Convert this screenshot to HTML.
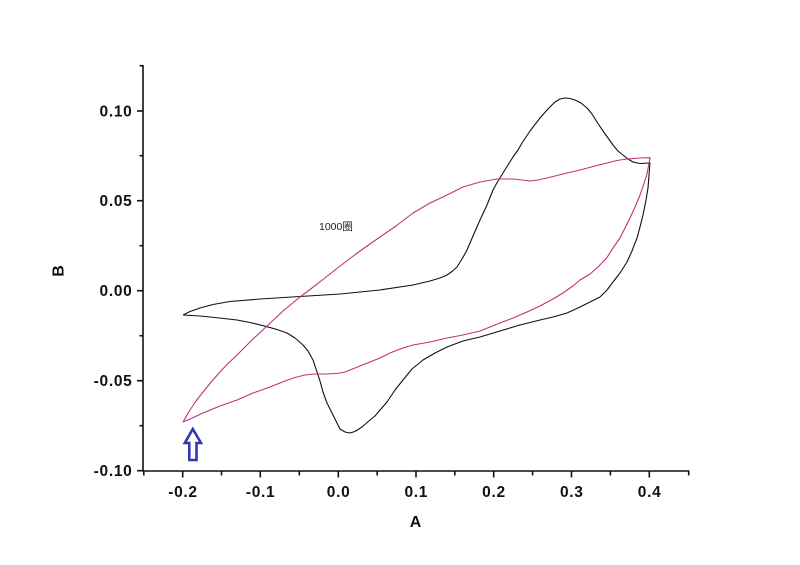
<!DOCTYPE html>
<html><head><meta charset="utf-8"><style>
html,body{margin:0;padding:0;background:#fff;}
svg{display:block;}
text{font-family:"Liberation Sans","Noto Sans CJK SC",Arial,sans-serif;}
.t{font-size:15.5px;font-weight:bold;fill:#111;letter-spacing:0.7px;}
</style></head><body>
<svg width="800" height="565" viewBox="0 0 800 565" xmlns="http://www.w3.org/2000/svg">
<rect width="800" height="565" fill="#fff"/>
<g stroke="#111" stroke-width="1.6" fill="none">
<line x1="143" y1="65" x2="143" y2="471.5"/>
<line x1="142.2" y1="471" x2="689.5" y2="471"/>
<line x1="137" y1="111" x2="143" y2="111"/>
<line x1="137" y1="200.7" x2="143" y2="200.7"/>
<line x1="137" y1="290.7" x2="143" y2="290.7"/>
<line x1="137" y1="380.7" x2="143" y2="380.7"/>
<line x1="137" y1="470.7" x2="143" y2="470.7"/>
<line x1="139.5" y1="65.7" x2="143" y2="65.7"/>
<line x1="139.5" y1="155.7" x2="143" y2="155.7"/>
<line x1="139.5" y1="245.7" x2="143" y2="245.7"/>
<line x1="139.5" y1="335.7" x2="143" y2="335.7"/>
<line x1="139.5" y1="425.7" x2="143" y2="425.7"/>
<line x1="182.7" y1="471" x2="182.7" y2="477.5"/>
<line x1="260.3" y1="471" x2="260.3" y2="477.5"/>
<line x1="338.3" y1="471" x2="338.3" y2="477.5"/>
<line x1="416" y1="471" x2="416" y2="477.5"/>
<line x1="493.7" y1="471" x2="493.7" y2="477.5"/>
<line x1="571.5" y1="471" x2="571.5" y2="477.5"/>
<line x1="649.3" y1="471" x2="649.3" y2="477.5"/>
<line x1="143.8" y1="471" x2="143.8" y2="475.5"/>
<line x1="221.5" y1="471" x2="221.5" y2="475.5"/>
<line x1="299.3" y1="471" x2="299.3" y2="475.5"/>
<line x1="377.2" y1="471" x2="377.2" y2="475.5"/>
<line x1="454.8" y1="471" x2="454.8" y2="475.5"/>
<line x1="532.6" y1="471" x2="532.6" y2="475.5"/>
<line x1="610.4" y1="471" x2="610.4" y2="475.5"/>
<line x1="688.7" y1="471" x2="688.7" y2="475.5"/>
</g>
<g class="t" text-anchor="end">
<text x="132.5" y="116.5">0.10</text>
<text x="132.5" y="206.2">0.05</text>
<text x="132.5" y="296.2">0.00</text>
<text x="132.5" y="386.2">-0.05</text>
<text x="132.5" y="476.2">-0.10</text>
</g>
<g class="t" text-anchor="middle">
<text x="183" y="497">-0.2</text>
<text x="260.6" y="497">-0.1</text>
<text x="338.6" y="497">0.0</text>
<text x="416.3" y="497">0.1</text>
<text x="494" y="497">0.2</text>
<text x="571.8" y="497">0.3</text>
<text x="649.6" y="497">0.4</text>
</g>
<text x="415.5" y="527" text-anchor="middle" style="font-size:16px;font-weight:bold;fill:#111">A</text>
<text transform="translate(63.5,271) rotate(-90)" x="0" y="0" text-anchor="middle" style="font-size:16px;font-weight:bold;fill:#111">B</text>
<text x="319" y="230" style="font-size:10.5px;fill:#222">1000圈</text>
<polyline fill="none" stroke="#111" stroke-width="1.1" stroke-linejoin="round" points="
183,315 190,311.5 200,308 213,304.5 230,301.5 260,299 300,296.5 340,294 380,290 413,285 430,281 440,278 447,275 452,271.5 457,267 462,259 467,250 473,236 480,220 487,205 493,190 498,181 503,173 508,165 513,157 518,150 522,143 530,131 540,118 547,110 555,102 560,99 565,98 570,98.5 575,100 581,103 587,108 592,114 597,122 603,131 608,138 613,145 618,151 623,155 628,159 633,162 640,163.5 650,163
649,175 648,188 646,200 643,215 640,227 637,238 632,251 627,262 620,273 613,282 607,290 600,297 590,302 580,307 567,313 553,317 540,320 520,325 500,331 480,337 463,341 447,347 435,353 423,360 412,369 403,380 395,390 387,402 380,410 375,416 370,420 362,427 355,431.5 350,433 345,432 340,429 337,423 332,413 327,403 323,392 320,381 316,369 313,360 308,351 303,345 295,338 287,333 277,329.5 267,326.7 250,322.5 237,320 215,317.5 200,316 183,315"/>
<polyline fill="none" stroke="#c2307e" stroke-width="1.1" stroke-linejoin="round" points="
183,422 190,410 196,401 203,392 212,381 220,372 228,363.5 237,355 252,340 267,326 283,311 300,297 312,288 323,279.5 335,270 348,260 360,251 380,237 396,226 413,213 430,203 447,195 463,187 480,182 497,179 513,179 522,180 530,181 538,180 547,178 563,174 580,170 595,166 607,163 617,160.5 627,159 640,158 650,157.7
648.5,166 646.7,175 643.5,185 640,195 635,207 630,218 625,228 620,238 613,248 606.7,258 598,267 590,274 580,280 573,286 563,293 553,299 540,306 527,312 513,318 500,323 480,331 463,335 447,338 430,342 413,345 400,349 390,353 380,358 370,362 355,368 345,372 337,373.5 325,374 315,374 305,375 295,377.5 285,381 270,387 253,393 237,400 220,406 203,413 190,419 183,422"/>
<path d="M192.8,429 L201,443 L196.5,443 L196.5,460 L189.3,460 L189.3,443 L184.8,443 Z" fill="#fff" stroke="#3535b2" stroke-width="2.6" stroke-linejoin="miter"/>
</svg>
</body></html>
